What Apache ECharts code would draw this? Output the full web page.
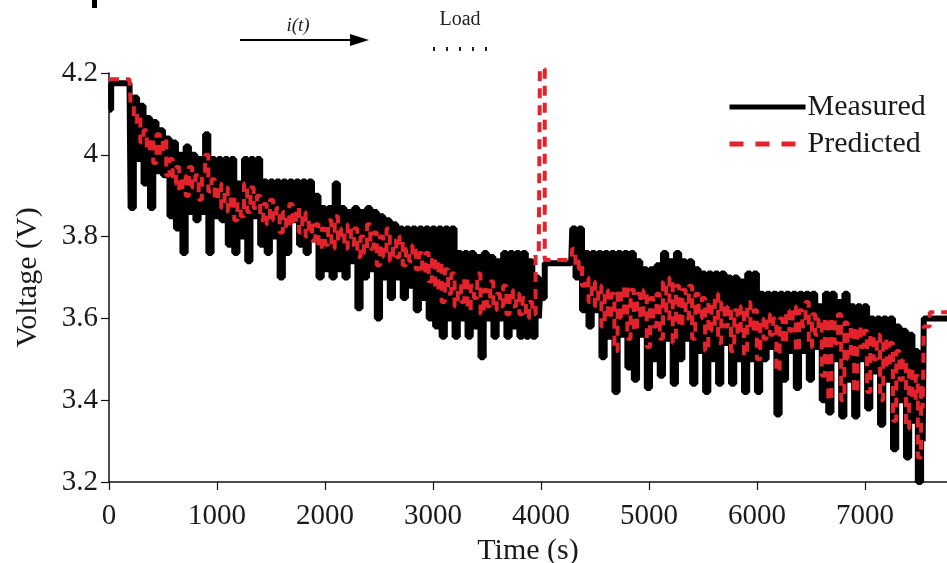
<!DOCTYPE html>
<html>
<head>
<meta charset="utf-8">
<script src="https://cdn.jsdelivr.net/npm/echarts@6/dist/echarts.min.js"></script>
<style>
html,body{margin:0;padding:0;background:#fff;}
#chart{width:947px;height:563px;}
</style>
</head>
<body>
<div id="chart"></div>
<script>
// ---- data ----
const xTicks = [0, 1000, 2000, 3000, 4000, 5000, 6000, 7000];
const yTicks = [3.2, 3.4, 3.6, 3.8, 4, 4.2];
const seriesNames = ['Measured', 'Predicted'];

const timeS = [
 0,20,100,190,200,230,260,290,320,350,380,410,440,470,500,530,560,590,620,650,680,710,740,770,800,830,860,890,920,950,
 980,1010,1040,1070,1100,1130,1160,1190,1220,1250,1280,1310,1340,1370,1400,1430,1460,1490,1520,1550,1580,1610,1640,1670,1700,1730,1760,1790,1820,1850,
 1880,1910,1940,1970,2000,2030,2060,2090,2120,2150,2180,2210,2240,2270,2300,2330,2360,2390,2420,2450,2480,2510,2540,2570,2600,2630,2660,2690,2720,2750,
 2780,2810,2840,2870,2900,2930,2960,2990,3020,3050,3080,3110,3140,3170,3200,3230,3260,3290,3320,3350,3380,3410,3440,3470,3500,3530,3560,3590,3620,3650,
 3680,3710,3740,3770,3800,3830,3860,3890,3920,3950,3980,3990,4035,4280,4290,4320,4350,4380,4410,4440,4470,4500,4530,4560,4590,4620,4650,4680,4710,4740,
 4770,4800,4830,4860,4890,4920,4950,4980,5010,5040,5070,5100,5130,5160,5190,5220,5250,5280,5310,5340,5370,5400,5430,5460,5490,5520,5550,5580,5610,5640,
 5670,5700,5730,5760,5790,5820,5850,5880,5910,5940,5970,6000,6030,6060,6090,6120,6150,6180,6210,6240,6270,6300,6330,6360,6390,6420,6450,6480,6510,6540,
 6570,6600,6630,6660,6690,6720,6750,6780,6810,6840,6870,6900,6930,6960,6990,7020,7050,7080,7110,7140,7170,7200,7230,7260,7290,7320,7350,7380,7410,7440,
 7470,7490,7520,7535,7545,7600,7760
];

const measuredV = [
 4.11,4.175,4.175,4.175,3.87,4.14,3.99,4.12,3.93,4.09,3.87,4.08,3.96,4.06,3.95,4.04,3.85,4.03,3.82,4.00,3.76,4.02,3.86,4.00,3.84,3.99,3.86,4.05,3.76,3.99,
 3.85,3.99,3.84,3.99,3.78,3.99,3.76,3.93,3.80,3.99,3.74,3.99,3.85,3.99,3.78,3.935,3.76,3.935,3.80,3.935,3.70,3.935,3.76,3.935,3.84,3.935,3.78,3.935,3.76,3.935,
 3.80,3.90,3.70,3.87,3.72,3.87,3.70,3.93,3.72,3.87,3.70,3.86,3.74,3.87,3.625,3.86,3.70,3.87,3.72,3.86,3.60,3.85,3.70,3.84,3.65,3.83,3.70,3.82,3.65,3.82,
 3.68,3.82,3.62,3.82,3.65,3.82,3.60,3.82,3.58,3.82,3.555,3.82,3.60,3.82,3.555,3.76,3.60,3.76,3.555,3.76,3.58,3.75,3.505,3.76,3.60,3.75,3.555,3.74,3.60,3.76,
 3.555,3.76,3.58,3.76,3.555,3.76,3.555,3.74,3.555,3.70,3.60,3.65,3.735,3.735,3.82,3.70,3.82,3.62,3.76,3.58,3.76,3.62,3.76,3.505,3.76,3.555,3.76,3.42,3.76,3.56,
 3.76,3.48,3.76,3.45,3.74,3.56,3.72,3.43,3.72,3.50,3.73,3.46,3.76,3.55,3.74,3.44,3.76,3.50,3.74,3.55,3.74,3.44,3.72,3.52,3.71,3.42,3.71,3.50,3.71,3.44,
 3.71,3.54,3.70,3.44,3.70,3.50,3.69,3.42,3.71,3.50,3.71,3.42,3.66,3.50,3.66,3.53,3.66,3.365,3.66,3.45,3.66,3.52,3.66,3.43,3.66,3.52,3.66,3.45,3.66,3.53,
 3.63,3.40,3.66,3.37,3.66,3.50,3.64,3.36,3.66,3.45,3.63,3.36,3.63,3.50,3.63,3.38,3.60,3.47,3.60,3.34,3.60,3.45,3.60,3.28,3.58,3.40,3.57,3.26,3.56,3.35,
 3.52,3.20,3.48,3.30,3.60,3.60,3.60
];

const predictedV = [
 4.185,4.185,4.185,4.185,4.12,4.08,4.10,4.03,4.06,4.01,4.04,3.98,4.05,4.00,4.04,3.95,3.99,3.93,3.97,3.91,3.95,3.90,3.97,3.92,3.95,3.89,3.96,4.00,3.91,3.94,
 3.89,3.93,3.87,3.92,3.86,3.90,3.84,3.88,3.85,3.93,3.86,3.92,3.87,3.90,3.84,3.88,3.83,3.89,3.84,3.87,3.81,3.86,3.82,3.88,3.83,3.87,3.81,3.86,3.80,3.84,
 3.79,3.83,3.77,3.82,3.78,3.84,3.77,3.85,3.79,3.82,3.77,3.83,3.78,3.82,3.75,3.80,3.76,3.83,3.77,3.81,3.73,3.80,3.75,3.82,3.74,3.79,3.75,3.80,3.73,3.77,
 3.74,3.78,3.72,3.76,3.71,3.76,3.69,3.75,3.67,3.74,3.64,3.72,3.66,3.71,3.63,3.68,3.64,3.70,3.62,3.68,3.65,3.71,3.61,3.67,3.63,3.69,3.62,3.66,3.63,3.68,
 3.61,3.67,3.63,3.66,3.61,3.65,3.60,3.64,3.61,3.76,3.76,4.21,3.743,3.743,3.77,3.72,3.74,3.68,3.70,3.64,3.69,3.63,3.68,3.58,3.67,3.60,3.66,3.52,3.67,3.60,
 3.68,3.55,3.67,3.57,3.66,3.60,3.67,3.53,3.65,3.58,3.66,3.55,3.69,3.60,3.70,3.54,3.68,3.58,3.67,3.60,3.68,3.55,3.66,3.60,3.65,3.52,3.64,3.57,3.66,3.54,
 3.64,3.58,3.63,3.52,3.62,3.56,3.63,3.51,3.64,3.57,3.62,3.50,3.60,3.55,3.61,3.56,3.60,3.47,3.60,3.54,3.62,3.57,3.63,3.52,3.62,3.58,3.64,3.53,3.61,3.56,
 3.60,3.46,3.60,3.40,3.60,3.54,3.61,3.40,3.59,3.50,3.58,3.42,3.58,3.53,3.57,3.42,3.56,3.50,3.56,3.40,3.55,3.48,3.54,3.35,3.52,3.45,3.50,3.33,3.48,3.40,
 3.46,3.26,3.44,3.38,3.58,3.615,3.62
];

const measuredData = timeS.map((t, i) => [t, measuredV[i]]);
const predictedData = timeS.map((t, i) => [t, predictedV[i]]);

const SERIF = '"Liberation Serif","Times New Roman",serif';
const BLACK = '#000000';
const RED = '#e3222b';
const chart = echarts.init(document.getElementById('chart'), null, {renderer: 'canvas'});

chart.setOption({
  animation: false,
  backgroundColor: '#ffffff',
  grid: {left: 109, right: 0, top: 73, bottom: 81, containLabel: false, outerBoundsMode: 'none'},
  legend: {
    orient: 'vertical',
    left: 722,
    top: 87,
    itemWidth: 76,
    itemHeight: 26,
    itemGap: 7,
    textStyle: {fontFamily: SERIF, fontSize: 30, color: '#1a1a1a', padding: [0, 0, 0, -3]},
    data: [
      {name: seriesNames[0], itemStyle: {opacity: 0}, lineStyle: {color: BLACK, width: 5, type: 'solid'}},
      {name: seriesNames[1], itemStyle: {opacity: 0}, lineStyle: {color: RED, width: 5, type: [14, 12], dashOffset: 0}}
    ]
  },
  xAxis: {
    type: 'value',
    min: 0,
    max: 7760,
    interval: 1000,
    name: 'Time (s)',
    nameLocation: 'middle',
    nameGap: 52,
    nameTextStyle: {fontFamily: SERIF, fontSize: 30, color: '#1a1a1a'},
    axisLine: {show: true, onZero: false, lineStyle: {color: '#111', width: 1.5}},
    axisTick: {show: true, length: 8, lineStyle: {color: '#111', width: 1.2}, customValues: xTicks},
    axisLabel: {fontFamily: SERIF, fontSize: 29, color: '#1a1a1a', margin: 20, customValues: xTicks,
      formatter: v => String(Math.round(v))},
    splitLine: {show: false}
  },
  yAxis: {
    type: 'value',
    min: 3.2,
    max: 4.2,
    interval: 0.2,
    name: 'Voltage (V)',
    nameLocation: 'middle',
    nameGap: 66,
    nameTextStyle: {fontFamily: SERIF, fontSize: 30, color: '#1a1a1a'},
    axisLine: {show: true, onZero: false, lineStyle: {color: '#111', width: 1.5}},
    axisTick: {show: true, length: 8, lineStyle: {color: '#111', width: 1.2}, customValues: yTicks},
    axisLabel: {fontFamily: SERIF, fontSize: 29, color: '#1a1a1a', margin: 11, customValues: yTicks,
      formatter: v => String(Math.round(v * 10) / 10)},
    splitLine: {show: false}
  },
  series: [
    {
      name: seriesNames[0],
      type: 'line',
      step: 'end',
      symbol: 'none',
      data: measuredData,
      lineStyle: {color: BLACK, width: 6},
      itemStyle: {color: BLACK},
      z: 2
    },
    {
      name: seriesNames[1],
      type: 'line',
      step: 'end',
      symbol: 'none',
      clip: false,
      data: predictedData,
      lineStyle: {color: RED, width: 4, type: [10, 7]},
      itemStyle: {color: RED},
      z: 3
    }
  ],
  graphic: [
    {type: 'rect', shape: {x: 92, y: 0, width: 5, height: 8}, style: {fill: '#000'}},
    {type: 'text', x: 298, y: 26, style: {text: 'i(t)', fontFamily: SERIF, fontStyle: 'italic', fontSize: 19, fill: '#222', align: 'center', verticalAlign: 'middle'}},
    {type: 'line', shape: {x1: 240, y1: 40, x2: 356, y2: 40}, style: {stroke: '#000', lineWidth: 2}},
    {type: 'polygon', shape: {points: [[350, 34], [369, 40], [350, 46]]}, style: {fill: '#000'}},
    {type: 'text', x: 460, y: 20, style: {text: 'Load', fontFamily: SERIF, fontSize: 20, fill: '#222', align: 'center', verticalAlign: 'middle'}},
    {type: 'rect', shape: {x: 433, y: 47, width: 2, height: 4}, style: {fill: '#222'}},
    {type: 'rect', shape: {x: 446, y: 47, width: 2, height: 4}, style: {fill: '#222'}},
    {type: 'rect', shape: {x: 459, y: 47, width: 2, height: 4}, style: {fill: '#222'}},
    {type: 'rect', shape: {x: 472, y: 47, width: 2, height: 4}, style: {fill: '#222'}},
    {type: 'rect', shape: {x: 485, y: 47, width: 2, height: 4}, style: {fill: '#222'}}
  ]
});
</script>
</body>
</html>
